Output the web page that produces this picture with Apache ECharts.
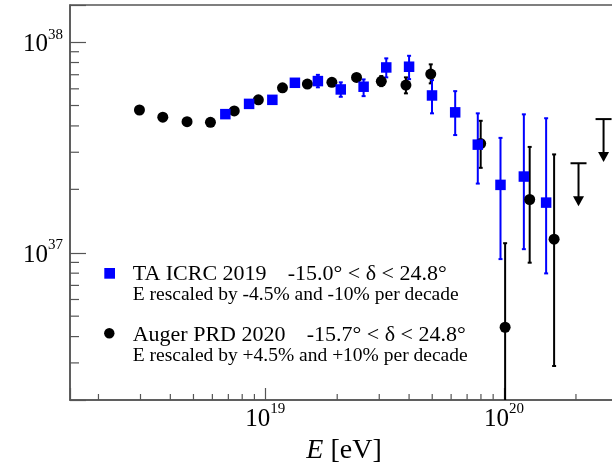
<!DOCTYPE html>
<html>
<head>
<meta charset="utf-8">
<title>TA / Auger flux</title>
<script src="https://cdn.jsdelivr.net/npm/echarts@6.0.0/dist/echarts.min.js"></script>
<style>
  html, body { margin: 0; padding: 0; background: #fff; }
  #chart { width: 612px; height: 466px; }
</style>
</head>
<body>
<div id="chart"></div>
<script>
	// TA ICRC 2019 (blue squares): energy [eV], E^3 J, error band low / high
	const taE    = [6.80e18, 8.55e18, 1.07e19, 1.33e19, 1.66e19, 2.07e19, 2.58e19, 3.21e19, 4.00e19, 4.99e19, 6.24e19, 7.76e19, 9.66e19, 1.21e20, 1.50e20];
	const taJ    = [4.55e37, 5.09e37, 5.32e37, 6.41e37, 6.53e37, 5.96e37, 6.14e37, 7.58e37, 7.64e37, 5.58e37, 4.64e37, 3.26e37, 2.10e37, 2.30e37, 1.73e37];
	const taLow  = [4.46e37, 4.99e37, 5.22e37, 6.28e37, 6.10e37, 5.50e37, 5.54e37, 6.80e37, 6.67e37, 4.59e37, 3.62e37, 2.13e37, 9.33e36, 1.04e37, 7.98e36];
	const taHigh = [4.64e37, 5.19e37, 5.43e37, 6.54e37, 6.99e37, 6.44e37, 6.65e37, 8.37e37, 8.61e37, 6.60e37, 5.85e37, 4.59e37, 3.51e37, 4.54e37, 4.35e37];

	// Auger PRD 2020 (black circles)
	const augerE    = [2.97e18, 3.72e18, 4.70e18, 5.89e18, 7.41e18, 9.35e18, 1.18e19, 1.50e19, 1.90e19, 2.41e19, 3.06e19, 3.88e19, 4.93e19, 7.98e19, 1.01e20, 1.28e20, 1.62e20];
	const augerJ    = [4.76e37, 4.40e37, 4.19e37, 4.16e37, 4.71e37, 5.32e37, 6.07e37, 6.32e37, 6.44e37, 6.80e37, 6.51e37, 6.25e37, 7.05e37, 3.30e37, 4.43e36, 1.79e37, 1.16e37];
	const augerLow  = [4.70e37, 4.34e37, 4.13e37, 4.10e37, 4.65e37, 5.25e37, 5.99e37, 6.23e37, 6.35e37, 6.70e37, 6.18e37, 5.71e37, 6.37e37, 2.53e37, 1.00e35, 8.97e36, 2.90e36];
	const augerHigh = [4.82e37, 4.46e37, 4.25e37, 4.22e37, 4.77e37, 5.39e37, 6.15e37, 6.41e37, 6.53e37, 6.90e37, 6.90e37, 6.80e37, 7.84e37, 4.23e37, 1.11e37, 3.18e37, 2.93e37];

	// Auger upper limits
	const limitE = [2.05e20, 2.61e20];
	const limitJ = [2.66e37, 4.31e37];

	// axis ranges and minor tick positions
	const xMin = 1.52e18, xMax = 3e20;
	const yMin = 2e36, yMax = 1.5e38;
	const xMinorTicks = [2e18, 3e18, 4e18, 5e18, 6e18, 7e18, 8e18, 9e18, 2e19, 3e19, 4e19, 5e19, 6e19, 7e19, 8e19, 9e19, 2e20];
	const yMinorTicks = [3e36, 4e36, 5e36, 6e36, 7e36, 8e36, 9e36, 2e37, 3e37, 4e37, 5e37, 6e37, 7e37, 8e37, 9e37];

	const serif = '"Liberation Serif", "DejaVu Serif", serif';
	const frame = '#555';

	function errorBars(color) {
		return function (params, api) {
			const x = api.coord([api.value(0), api.value(1)])[0];
			const y1 = api.coord([api.value(0), api.value(1)])[1];
			const y2 = api.coord([api.value(0), api.value(2)])[1];
			const s = { stroke: color, lineWidth: 2 };
			return {
				type: 'group',
				children: [
					{ type: 'line', shape: { x1: x, y1: y1, x2: x, y2: y2 }, style: s },
					{ type: 'line', shape: { x1: x - 2, y1: y1, x2: x + 2, y2: y1 }, style: s },
					{ type: 'line', shape: { x1: x - 2, y1: y2, x2: x + 2, y2: y2 }, style: s }
				]
			};
		};
	}

	function upperLimit(params, api) {
		const p = api.coord([api.value(0), api.value(1)]);
		const x = p[0], y = p[1];
		const s = { stroke: '#000', lineWidth: 2 };
		return {
			type: 'group',
			children: [
				{ type: 'line', shape: { x1: x - 8, y1: y, x2: x + 8, y2: y }, style: s },
				{ type: 'line', shape: { x1: x, y1: y, x2: x, y2: y + 34 }, style: s },
				{ type: 'polygon', shape: { points: [[x - 5.5, y + 33], [x + 5.5, y + 33], [x, y + 43]] }, style: { fill: '#000' } }
			]
		};
	}

	function xMinor(params, api) {
		const x = api.coord([api.value(0), yMin])[0];
		const y0 = params.coordSys.y + params.coordSys.height;
		return { type: 'line', shape: { x1: x, y1: y0, x2: x, y2: y0 - 6 }, style: { stroke: frame, lineWidth: 1.2 } };
	}

	function yMinor(params, api) {
		const y = api.coord([xMin, api.value(1)])[1];
		const x0 = params.coordSys.x;
		return { type: 'line', shape: { x1: x0, y1: y, x2: x0 + 9, y2: y }, style: { stroke: frame, lineWidth: 1.2 } };
	}

	function powerLabel(v) {
		const l = Math.log10(v);
		const e = Math.round(l);
		return Math.abs(l - e) < 1e-6 ? '{b|10}{s|' + e + '}' : '';
	}

	const labelRich = {
		b: { fontFamily: serif, fontSize: 25, color: '#000', lineHeight: 30, verticalAlign: 'bottom' },
		s: { fontFamily: serif, fontSize: 15, color: '#000', lineHeight: 15, verticalAlign: 'top' }
	};

	const chart = echarts.init(document.getElementById('chart'), null, { renderer: 'canvas' });

	const option = {
		animation: false,
		backgroundColor: '#fff',
		grid: {
			left: 70, top: 5, width: 548, height: 395,
			outerBoundsMode: 'none', containLabel: false,
			show: true, borderColor: frame, borderWidth: 1.5, backgroundColor: 'transparent'
		},
		xAxis: {
			type: 'log', logBase: 10, min: xMin, max: xMax,
			name: '{i|E} [eV]', nameLocation: 'middle', nameGap: 34,
			nameTextStyle: {
				fontFamily: serif, fontSize: 28, color: '#000',
				rich: { i: { fontFamily: serif, fontSize: 28, fontStyle: 'italic', color: '#000' } }
			},
			axisLine: { show: true, lineStyle: { color: frame, width: 1.5 } },
			axisTick: { show: true, inside: true, length: 12, lineStyle: { color: frame, width: 1.2 } },
			axisLabel: { formatter: powerLabel, margin: 2, rich: labelRich },
			splitLine: { show: false }
		},
		yAxis: {
			type: 'log', logBase: 10, min: yMin, max: yMax,
			axisLine: { show: true, lineStyle: { color: frame, width: 1.5 } },
			axisTick: { show: true, inside: true, length: 16, lineStyle: { color: frame, width: 1.2 } },
			axisLabel: { formatter: powerLabel, margin: 7, rich: labelRich },
			splitLine: { show: false }
		},
		series: [
			{ type: 'custom', renderItem: xMinor, data: xMinorTicks.map(v => [v, yMin]), silent: true },
			{ type: 'custom', renderItem: yMinor, data: yMinorTicks.map(v => [xMin, v]), silent: true },
			{
				name: 'Auger errors', type: 'custom', clip: true,
				renderItem: errorBars('#000'),
				data: augerE.map((e, i) => [e, augerLow[i], augerHigh[i]])
			},
			{
				name: 'Auger PRD 2020', type: 'scatter', symbol: 'circle', symbolSize: 11,
				itemStyle: { color: '#000', opacity: 1 },
				data: augerE.map((e, i) => [e, augerJ[i]])
			},
			{
				name: 'Auger limits', type: 'custom', clip: false,
				renderItem: upperLimit,
				data: limitE.map((e, i) => [e, limitJ[i]])
			},
			{
				name: 'TA errors', type: 'custom', clip: true,
				renderItem: errorBars('#0000ff'),
				data: taE.map((e, i) => [e, taLow[i], taHigh[i]])
			},
			{
				name: 'TA ICRC 2019', type: 'scatter', symbol: 'rect', symbolSize: 10.5,
				itemStyle: { color: '#0000ff', opacity: 1 },
				data: taE.map((e, i) => [e, taJ[i]])
			}
		],
		graphic: [
			{ type: 'rect', shape: { x: 104.3, y: 268, width: 10.7, height: 10.7 }, style: { fill: '#0000ff' } },
			{ type: 'text', x: 132.7, y: 274.3, style: { text: 'TA ICRC 2019', font: '22px ' + serif, fill: '#000', verticalAlign: 'middle' } },
			{ type: 'text', x: 287.7, y: 274.3, style: { text: '-15.0° < δ < 24.8°', font: '22px ' + serif, fill: '#000', verticalAlign: 'middle' } },
			{ type: 'text', x: 132.7, y: 295.1, style: { text: 'E rescaled by -4.5% and -10% per decade', font: '19.5px ' + serif, fill: '#000', verticalAlign: 'middle' } },
			{ type: 'circle', shape: { cx: 109.3, cy: 333.3, r: 5.2 }, style: { fill: '#000' } },
			{ type: 'text', x: 132.7, y: 334.9, style: { text: 'Auger PRD 2020', font: '22px ' + serif, fill: '#000', verticalAlign: 'middle' } },
			{ type: 'text', x: 306.7, y: 334.9, style: { text: '-15.7° < δ < 24.8°', font: '22px ' + serif, fill: '#000', verticalAlign: 'middle' } },
			{ type: 'text', x: 132.7, y: 355.7, style: { text: 'E rescaled by +4.5% and +10% per decade', font: '19.5px ' + serif, fill: '#000', verticalAlign: 'middle' } }
		]
	};

	chart.setOption(option);
</script>
</body>
</html>
